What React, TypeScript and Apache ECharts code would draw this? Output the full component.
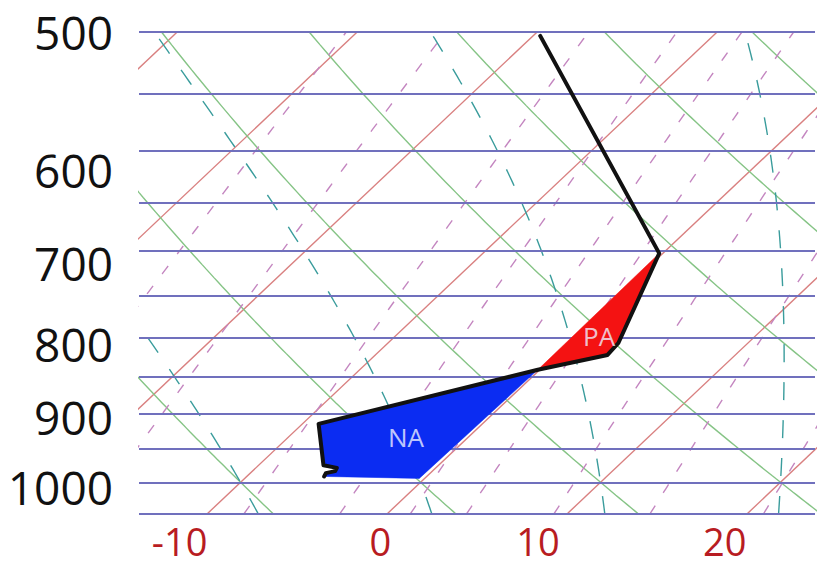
import React, { useEffect, useRef } from "react";
import * as echarts from "echarts";

// ---- axis labels ----
const PRESSURE_LABELS = [500, 600, 700, 800, 900, 1000];
const TEMP_LABELS = [-10, 0, 10, 20];

// ---- background reference lines (parameters) ----
const ISOBARS = [500, 550, 600, 650, 700, 750, 800, 850, 900, 950, 1000, 1050]; // hPa
const ISOTHERMS = [-40, -30, -20, -10, 0, 10, 20]; // °C
const DRY_ADIABATS = [-10, 0, 10, 20, 30, 40, 50, 60]; // potential temperature °C
const MOIST_ADIABATS = [-10, 0, 10, 20]; // wet-bulb potential temperature °C
const MIXING_RATIOS = [0.6, 1, 2, 3, 4, 5, 7, 10, 15, 20]; // g/kg

// ---- sounding (temperature °C, pressure hPa) ----
const ENV_T = [-19.6, -0.2, 2.8, 2.9, -0.1, -9.1, -6.4, -5.5, -5.4, -5.8, -5.7];
const ENV_P = [503, 703, 807, 822, 841, 914, 974, 978, 983, 986, 991];

// negative area (NA) and positive area (PA) outlines
const NA_T = [-0.1, -9.1, -6.4, -5.5, -5.4, -5.8, -5.7, -0.3];
const NA_P = [841, 914, 974, 978, 983, 986, 991, 994];
const PA_T = [-0.2, 2.8, 2.9, -0.1];
const PA_P = [703, 807, 822, 841];

const AREA_LABELS = [
  { name: "NA", t: -3.5, p: 932 },
  { name: "PA", t: 1.3, p: 798 },
];

// ---- skew-T geometry ----
const SKEW = 38.2; // °C of horizontal shift per unit of ln(p)
const P_BASE = 1050;
const P_TOP = 500;
const X_MIN = -13.78;
const X_MAX = 23.78;
const LABEL_X_MIN = -12.78;
const LABEL_X_MAX = 25.05;

const skewX = (t: number, p: number) => t + SKEW * Math.log(P_BASE / p);

const P_SAMPLES: number[] = [];
for (let p = P_BASE; p >= P_TOP; p -= 5) P_SAMPLES.push(p);

// thermodynamics for reference curves
const RD = 287.04, CP = 1005.7, LV = 2.501e6, EPS = 0.622;
const satVap = (tk: number) => {
  const c = tk - 273.15;
  return 6.112 * Math.exp((17.67 * c) / (c + 243.5));
};
const moistSlope = (p: number, tk: number) => {
  const e = satVap(tk);
  const rs = (EPS * e) / (p - e);
  return ((1 / p) * (RD * tk + LV * rs)) / (CP + (LV * LV * rs * EPS) / (RD * tk * tk));
};
const moistCurve = (thw: number): number[][] => {
  const integrate = (p0: number, t0: number, p1: number, h: number) => {
    const out: number[][] = [];
    let p = p0, t = t0;
    out.push([p, t]);
    while ((h < 0 && p > p1 + 1e-6) || (h > 0 && p < p1 - 1e-6)) {
      const k1 = moistSlope(p, t);
      const k2 = moistSlope(p + h / 2, t + (h / 2) * k1);
      const k3 = moistSlope(p + h / 2, t + (h / 2) * k2);
      const k4 = moistSlope(p + h, t + h * k3);
      t += (h / 6) * (k1 + 2 * k2 + 2 * k3 + k4);
      p += h;
      out.push([p, t]);
    }
    return out;
  };
  const up = integrate(1000, thw + 273.15, P_TOP, -5);
  const down = integrate(1000, thw + 273.15, P_BASE, 5);
  const all = down.reverse().concat(up.slice(1));
  return all.map(([p, tk]) => [skewX(tk - 273.15, p), p]);
};
const dryCurve = (theta: number) =>
  P_SAMPLES.map((p) => [skewX((theta + 273.15) * Math.pow(p / 1000, 0.2857) - 273.15, p), p]);
const mixCurve = (w: number) =>
  P_SAMPLES.map((p) => {
    const e = (w * p) / (622 + w);
    const l = Math.log(e / 6.112);
    const td = (243.5 * l) / (17.67 - l);
    return [skewX(td, p), p];
  });

const FONT = "'Open Sans', 'Noto Sans', sans-serif";
// small per-label offsets (pixels) to follow the reference's label placement
const Y_NUDGE: Record<number, number> = { 500: 0, 600: 20, 700: 12, 800: 7, 900: 3, 1000: 5 };
const X_NUDGE: Record<string, number> = { "-10": -9, "0": 13, "10": -8, "20": 0 };

export default function App() {
  const ref = useRef<HTMLDivElement>(null);

  useEffect(() => {
    if (!ref.current) return;
    const chart = echarts.init(ref.current, undefined, { renderer: "svg" });

    const lineBase = (data: number[][], color: string, width: number, type: any, z = 1) => ({
      type: "line",
      data,
      xAxisIndex: 0,
      yAxisIndex: 0,
      symbol: "none",
      silent: true,
      clip: true,
      z,
      lineStyle: { color, width, type },
    });

    const series: any[] = [];
    ISOTHERMS.forEach((t) =>
      series.push(lineBase([[skewX(t, P_BASE), P_BASE], [skewX(t, P_TOP), P_TOP]], "#d98080", 1.4, "solid"))
    );
    DRY_ADIABATS.forEach((th) => series.push(lineBase(dryCurve(th), "#86c486", 1.4, "solid")));
    MIXING_RATIOS.forEach((w) => series.push(lineBase(mixCurve(w), "#c486c0", 1.4, [10, 15])));
    MOIST_ADIABATS.forEach((tw) => series.push(lineBase(moistCurve(tw), "#3a9c9c", 1.4, [18, 20])));

    // isobars
    series.push({
      type: "line",
      data: [],
      xAxisIndex: 0,
      yAxisIndex: 0,
      silent: true,
      z: 2,
      markLine: {
        silent: true,
        symbol: ["none", "none"],
        label: { show: false },
        lineStyle: { color: "#7070bd", width: 2.2, type: "solid" },
        data: ISOBARS.map((p) => ({ yAxis: p })),
      },
    });

    const polygon = (ts: number[], ps: number[], fill: string) => ({
      type: "custom",
      xAxisIndex: 0,
      yAxisIndex: 0,
      silent: true,
      z: 5,
      data: [[skewX(ts[0], ps[0]), ps[0]]],
      renderItem: (_params: any, api: any) => ({
        type: "polygon",
        shape: { points: ts.map((t, i) => api.coord([skewX(t, ps[i]), ps[i]])) },
        style: { fill, stroke: fill, lineWidth: 0.5 },
      }),
    });
    series.push(polygon(NA_T, NA_P, "#0b2cf2"));
    series.push(polygon(PA_T, PA_P, "#f41212"));

    series.push({
      type: "line",
      data: ENV_T.map((t, i) => [skewX(t, ENV_P[i]), ENV_P[i]]),
      xAxisIndex: 0,
      yAxisIndex: 0,
      symbol: "none",
      silent: true,
      z: 6,
      lineStyle: { color: "#111111", width: 4, cap: "round", join: "round" },
    });

    series.push({
      type: "scatter",
      xAxisIndex: 0,
      yAxisIndex: 0,
      symbolSize: 0,
      silent: true,
      z: 7,
      data: AREA_LABELS.map((a) => ({ name: a.name, value: [skewX(a.t, a.p), a.p] })),
      label: {
        show: true,
        position: "inside",
        formatter: (d: any) => d.name,
        fontFamily: FONT,
        fontSize: 26,
        color: "#eef0ff",
      },
    });

    const yRich: Record<string, any> = {};
    PRESSURE_LABELS.forEach((p) => {
      const n = Y_NUDGE[p] || 0;
      yRich["p" + p] = {
        fontSize: 46,
        lineHeight: 46,
        fontFamily: FONT,
        color: "#111111",
        padding: n >= 0 ? [2 * n, 0, 0, 0] : [0, 0, -2 * n, 0],
      };
    });
    const xRich: Record<string, any> = {};
    TEMP_LABELS.forEach((t, i) => {
      const n = X_NUDGE[String(t)] || 0;
      xRich["t" + i] = {
        fontSize: 38,
        lineHeight: 38,
        fontFamily: FONT,
        color: "#b81c22",
        padding: n >= 0 ? [0, 0, 0, 2 * n] : [0, -2 * n, 0, 0],
      };
    });

    chart.setOption({
      animation: false,
      backgroundColor: "#ffffff",
      grid: { left: 139, right: 3, top: 32, bottom: 54, containLabel: false },
      xAxis: [
        {
          type: "value",
          min: X_MIN,
          max: X_MAX,
          show: false,
        },
        {
          type: "value",
          position: "bottom",
          min: LABEL_X_MIN,
          max: LABEL_X_MAX,
          axisLine: { show: false, onZero: false },
          axisTick: { show: false },
          splitLine: { show: false },
          axisLabel: {
            customValues: TEMP_LABELS,
            fontSize: 38,
            lineHeight: 38,
            fontFamily: FONT,
            color: "#b81c22",
            margin: 8,
            formatter: (v: number) => {
              const r = Math.round(v);
              const i = TEMP_LABELS.indexOf(r);
              return `{t${i}|${r}}`;
            },
            rich: xRich,
          },
        },
      ],
      yAxis: [
        {
          type: "log",
          inverse: true,
          min: P_TOP,
          max: P_BASE,
          axisLine: { show: false },
          axisTick: { show: false },
          splitLine: { show: false },
          axisLabel: {
            customValues: PRESSURE_LABELS,
            margin: 26,
            fontSize: 46,
            lineHeight: 46,
            fontFamily: FONT,
            color: "#111111",
            formatter: (v: number) => {
              const r = Math.round(v);
              return `{p${r}|${r}}`;
            },
            rich: yRich,
          },
        },
      ],
      series,
    });

    return () => chart.dispose();
  }, []);

  return (
    <div
      ref={ref}
      style={{ position: "fixed", left: 0, top: 0, width: 818, height: 568, background: "#fff" }}
    />
  );
}
